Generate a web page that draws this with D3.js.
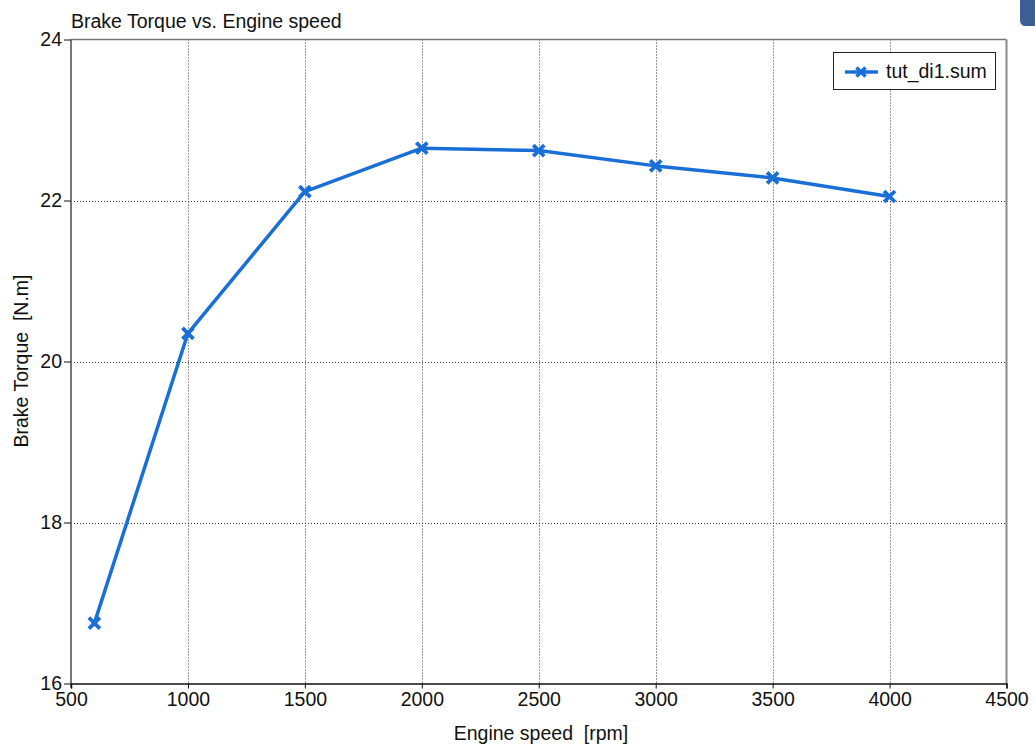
<!DOCTYPE html>
<html>
<head>
<meta charset="utf-8">
<script src="https://cdn.jsdelivr.net/npm/d3@7"></script>
<style>
  html, body { margin: 0; padding: 0; background: #fff; }
  svg { display: block; font-family: "Liberation Sans", Arial, Helvetica, sans-serif; }
  text { white-space: pre; }
</style>
</head>
<body>
<svg id="chart" width="1035" height="747"></svg>
<script>
// Brake torque sweep over engine speed
const speeds = [600, 1000, 1500, 2000, 2500, 3000, 3500, 4000];
const torque = [16.75, 20.35, 22.11, 22.65, 22.62, 22.43, 22.28, 22.05];
const xTicks = [500, 1000, 1500, 2000, 2500, 3000, 3500, 4000, 4500];
const yTicks = [16, 18, 20, 22, 24];
const seriesName = "tut_di1.sum";
const titleText = "Brake Torque vs. Engine speed";
const xLabel = "Engine speed  [rpm]";
const yLabel = "Brake Torque  [N.m]";

const m = { left: 71, right: 1006.5, top: 39.5, bottom: 683.5 };
const color = "#1a6fd6";
const FS = 19.5;

const svg = d3.select("#chart");

const x = d3.scaleLinear().domain([500, 4500]).range([m.left, m.right]);
const y = d3.scaleLinear().domain([16, 24]).range([m.bottom, m.top]);

// dotted grid
const grid = svg.append("g");
grid.selectAll("line.vx").data(xTicks.slice(1, -1)).join("line")
  .attr("x1", d => Math.round(x(d)) + 0.5).attr("x2", d => Math.round(x(d)) + 0.5)
  .attr("y1", m.top).attr("y2", m.bottom)
  .attr("stroke", "#333").attr("stroke-width", 1).attr("stroke-dasharray", "1,2");
grid.selectAll("line.hy").data(yTicks.slice(1, -1)).join("line")
  .attr("y1", d => Math.round(y(d)) + 0.5).attr("y2", d => Math.round(y(d)) + 0.5)
  .attr("x1", m.left).attr("x2", m.right)
  .attr("stroke", "#333").attr("stroke-width", 1).attr("stroke-dasharray", "1,2");

// frame
svg.append("line").attr("x1", m.left).attr("x2", m.right).attr("y1", m.top).attr("y2", m.top)
  .attr("stroke", "#777").attr("stroke-width", 1.5);
svg.append("line").attr("x1", m.right).attr("x2", m.right).attr("y1", m.top).attr("y2", m.bottom)
  .attr("stroke", "#888").attr("stroke-width", 2);
svg.append("line").attr("x1", m.left).attr("x2", m.left).attr("y1", m.top).attr("y2", m.bottom + 4)
  .attr("stroke", "#777").attr("stroke-width", 2);

// axes
const xAxis = d3.axisBottom(x).tickValues(xTicks).tickSize(5).tickPadding(4).tickFormat(d3.format("d"));
const gx = svg.append("g").attr("transform", `translate(0,${m.bottom})`).call(xAxis);
gx.select(".domain").attr("stroke", "#111").attr("stroke-width", 1.5);
gx.selectAll(".tick line").attr("stroke", "#111");
gx.selectAll(".tick text").attr("font-size", FS).attr("fill", "#111")
  .attr("font-family", "Liberation Sans, Arial, sans-serif");

const yAxis = d3.axisLeft(y).tickValues(yTicks).tickSize(7).tickPadding(2).tickFormat(d3.format("d"));
const gy = svg.append("g").attr("transform", `translate(${m.left},0)`).call(yAxis);
gy.select(".domain").remove();
gy.selectAll(".tick line").attr("stroke", "#111");
gy.selectAll(".tick text").attr("font-size", FS).attr("fill", "#111")
  .attr("font-family", "Liberation Sans, Arial, sans-serif");

// title and axis labels
svg.append("text").attr("x", 71).attr("y", 28).attr("font-size", FS).attr("fill", "#111")
  .text(titleText);
svg.append("text").attr("x", 541).attr("y", 740).attr("text-anchor", "middle")
  .attr("font-size", FS).attr("fill", "#111").text(xLabel);
svg.append("text").attr("transform", `translate(28,361) rotate(-90)`)
  .attr("text-anchor", "middle").attr("font-size", FS).attr("fill", "#111").text(yLabel);

// series line
const pts = speeds.map((s, i) => [s, torque[i]]);
svg.append("path").datum(pts)
  .attr("fill", "none").attr("stroke", color).attr("stroke-width", 3.5)
  .attr("stroke-linejoin", "round")
  .attr("d", d3.line().x(d => x(d[0])).y(d => y(d[1])));

// X markers
const cross = r => `M${-r},${-r}L${r},${r}M${-r},${r}L${r},${-r}`;
svg.append("g").selectAll("path").data(pts).join("path")
  .attr("transform", d => `translate(${x(d[0])},${y(d[1])})`)
  .attr("d", cross(5.5)).attr("stroke", color).attr("stroke-width", 3.8).attr("fill", "none");

// legend
const lg = svg.append("g");
lg.append("rect").attr("x", 833.5).attr("y", 52.5).attr("width", 162).attr("height", 37)
  .attr("fill", "#fff").attr("stroke", "#222").attr("stroke-width", 1);
lg.append("line").attr("x1", 845).attr("x2", 878).attr("y1", 72).attr("y2", 72)
  .attr("stroke", color).attr("stroke-width", 3.5);
lg.append("path").attr("transform", "translate(861,72)").attr("d", cross(4.5))
  .attr("stroke", color).attr("stroke-width", 3.5);
lg.append("text").attr("x", 886).attr("y", 78).attr("font-size", FS).attr("fill", "#111")
  .text(seriesName);

// corner tab at top right
svg.append("path")
  .attr("d", "M1020,0 L1035,0 L1035,26 L1026,26 Q1020,26 1020,20 Z")
  .attr("fill", "#3b5f95");
</script>
</body>
</html>
